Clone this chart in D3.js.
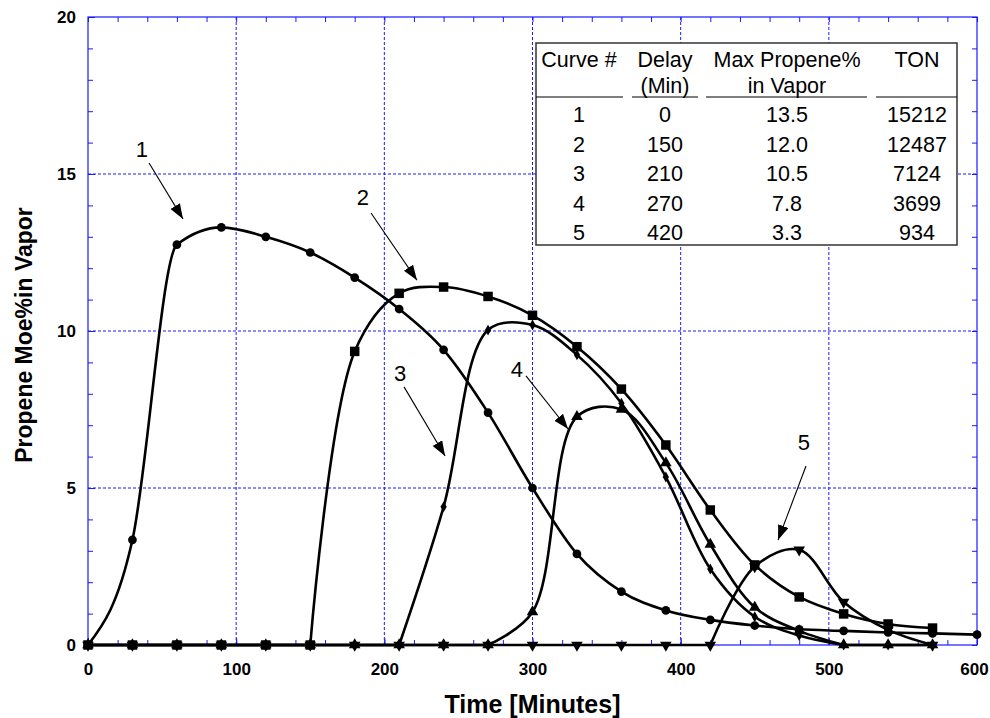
<!DOCTYPE html>
<html lang="en">
<head>
<meta charset="utf-8">
<title>Propene Mole% in Vapor</title>
<script src="https://d3js.org/d3.v7.min.js"></script>
<style>
  body { margin: 0; background: #fff; }
  text { font-family: "Liberation Sans", Arial, sans-serif; }
</style>
</head>
<body>
<div id="my_dataviz"></div>
<script>
// sample times (minutes), one point every 30 min
const times = [0, 30, 60, 90, 120, 150, 180, 210, 240, 270, 300, 330, 360, 390, 420, 450, 480, 510, 540, 570, 600];

// propene mol% in vapor for each curve
const curve1 = [0, 3.35, 12.75, 13.3, 13.0, 12.5, 11.7, 10.7, 9.4, 7.4, 5.0, 2.9, 1.7, 1.1, 0.8, 0.62, 0.5, 0.45, 0.4, 0.37, 0.33];
const curve2 = [0, 0, 0, 0, 0, 0, 9.35, 11.2, 11.4, 11.1, 10.5, 9.5, 8.15, 6.37, 4.3, 2.55, 1.53, 0.99, 0.67, 0.54];
const curve3 = [0, 0, 0, 0, 0, 0, 0, 0, 4.4, 10.03, 10.19, 9.24, 7.7, 5.35, 2.42, 0.9, 0.3, 0, 0, 0];
const curve4 = [0, 0, 0, 0, 0, 0, 0, 0, 0, 0, 1.05, 7.27, 7.5, 5.8, 3.2, 1.2, 0.45, 0, 0, 0];
const curve5 = [0, 0, 0, 0, 0, 0, 0, 0, 0, 0, 0, 0, 0, 0, 0, 2.5, 3.03, 1.37, 0.48, 0];

const seriesValues = [curve1, curve2, curve3, curve4, curve5];
const seriesMarkers = ["circle", "square", "diamond", "triangle", "triangleDown"];

// axis ticks
const xTicks = [0, 100, 200, 300, 400, 500, 600];
const yTicks = [0, 5, 10, 15, 20];

// curve labels with arrows: label position, arrow start, arrow tip (data units)
const labelText = ["1", "2", "3", "4", "5"];
const labelPos = [[36.4, 15.8], [185.6, 14.25], [210.6, 8.65], [289.5, 8.8], [483.2, 6.45]];
const arrowFrom = [[41.2, 15.35], [191, 13.76], [213.3, 8.22], [295.6, 8.57], [484.6, 5.7]];
const arrowTo = [[64.1, 13.57], [222, 11.62], [241, 6.02], [324, 6.88], [465.7, 3.34]];

// table in the upper right
const tableHead1 = ["Curve #", "Delay", "Max Propene%", "TON"];
const tableHead2 = ["", "(Min)", "in Vapor", ""];
const tableCurve = ["1", "2", "3", "4", "5"];
const tableDelay = ["0", "150", "210", "270", "420"];
const tableMax = ["13.5", "12.0", "10.5", "7.8", "3.3"];
const tableTon = ["15212", "12487", "7124", "3699", "934"];

// set the dimensions and margins of the graph
const margin = {top: 17, right: 13, bottom: 73, left: 88},
    width = 990 - margin.left - margin.right,
    height = 718 - margin.top - margin.bottom;

const svgRoot = d3.select("#my_dataviz")
  .append("svg")
    .attr("width", width + margin.left + margin.right)
    .attr("height", height + margin.top + margin.bottom);

const svg = svgRoot.append("g")
    .attr("transform", `translate(${margin.left},${margin.top})`);

const x = d3.scaleLinear().domain([0, 600]).range([0, width]);
const y = d3.scaleLinear().domain([0, 20]).range([height, 0]);

const blue = "#1a1aff";

// dotted grid at the major ticks
svg.append("g").selectAll("line")
  .data(xTicks.slice(1, -1))
  .join("line")
    .attr("x1", d => x(d)).attr("x2", d => x(d))
    .attr("y1", 0).attr("y2", height)
    .attr("stroke", blue).attr("stroke-width", 1).attr("stroke-dasharray", "3,2");
svg.append("g").selectAll("line")
  .data(yTicks.slice(1, -1))
  .join("line")
    .attr("x1", 0).attr("x2", width)
    .attr("y1", d => y(d)).attr("y2", d => y(d))
    .attr("stroke", blue).attr("stroke-width", 1).attr("stroke-dasharray", "3,2");

// ticks pointing inward on all four sides
function styleAxis(g) {
  g.select(".domain").remove();
  g.selectAll("line").attr("stroke", blue);
  g.selectAll("text").attr("font-family", "Liberation Sans, Arial, sans-serif")
    .attr("font-weight", "bold").attr("font-size", 17).attr("fill", "#000");
}
const xMinor = d3.range(0, 601, 20), yMinor = d3.range(0, 21, 1);

svg.append("g").attr("transform", `translate(0,${height})`)
  .call(d3.axisBottom(x).tickValues(xMinor).tickSize(-5).tickFormat("")).call(styleAxis);
svg.append("g")
  .call(d3.axisTop(x).tickValues(xMinor).tickSize(-5).tickFormat("")).call(styleAxis);
svg.append("g")
  .call(d3.axisLeft(y).tickValues(yMinor).tickSize(-5).tickFormat("")).call(styleAxis);
svg.append("g").attr("transform", `translate(${width},0)`)
  .call(d3.axisRight(y).tickValues(yMinor).tickSize(-5).tickFormat("")).call(styleAxis);

const xAxis = svg.append("g").attr("transform", `translate(0,${height})`)
  .call(d3.axisBottom(x).tickValues(xTicks).tickSize(-7).tickPadding(18)).call(styleAxis);
xAxis.selectAll("text").filter(d => d === 600).attr("dx", -3);
svg.append("g")
  .call(d3.axisLeft(y).tickValues(yTicks).tickSize(-7).tickPadding(12)).call(styleAxis);

// frame
svg.append("rect")
  .attr("width", width).attr("height", height)
  .attr("fill", "none").attr("stroke", blue).attr("stroke-width", 1.2);

// axis titles
svgRoot.append("text")
  .attr("x", margin.left + width / 2).attr("y", 713)
  .attr("text-anchor", "middle")
  .attr("font-weight", "bold").attr("font-size", 25)
  .text("Time [Minutes]");
svgRoot.append("text")
  .attr("transform", `translate(32,${margin.top + height / 2 + 4}) rotate(-90)`)
  .attr("text-anchor", "middle")
  .attr("font-weight", "bold").attr("font-size", 23)
  .text("Propene Moe%in Vapor");

// table box (covers the grid)
const tbl = svgRoot.append("g");
tbl.append("rect")
  .attr("x", 536).attr("y", 43).attr("width", 421).attr("height", 202)
  .attr("fill", "#fff").attr("stroke", "#333").attr("stroke-width", 1.5);
const colX = [579, 665, 787, 917];
const ruleSeg = [[536, 623], [632, 698], [706, 867], [876, 957]];
tbl.selectAll(".rule").data(ruleSeg).join("line")
  .attr("x1", d => d[0]).attr("x2", d => d[1])
  .attr("y1", 97).attr("y2", 97)
  .attr("stroke", "#000").attr("stroke-width", 1.2);
tbl.selectAll(".h1").data(tableHead1).join("text")
  .attr("x", (d, i) => colX[i]).attr("y", 67)
  .attr("text-anchor", "middle").attr("font-size", 21.5).text(d => d);
tbl.selectAll(".h2").data(tableHead2).join("text")
  .attr("x", (d, i) => colX[i]).attr("y", 93)
  .attr("text-anchor", "middle").attr("font-size", 21.5).text(d => d);
const tableCols = [tableCurve, tableDelay, tableMax, tableTon];
tableCols.forEach((col, c) => {
  tbl.append("g").selectAll("text").data(col).join("text")
    .attr("x", colX[c]).attr("y", (d, i) => 122 + i * 29.6)
    .attr("text-anchor", "middle").attr("font-size", 21.5)
    .attr("font-family", (d, i) => (c === 1 && i < 2) ? "Liberation Serif, serif" : null)
    .text(d => d);
});

// curves: flat zero runs drawn straight, the rest as a smooth spline
const linePts = d3.line().x(d => x(d[0])).y(d => y(d[1]));
const smooth = d3.line().x(d => x(d[0])).y(d => y(d[1])).curve(d3.curveCatmullRom.alpha(0.5));
const monotone = d3.line().x(d => x(d[0])).y(d => y(d[1])).curve(d3.curveMonotoneX);

function pieces(vals, gen) {
  const pts = vals.map((v, i) => [times[i], v]);
  let a = 0;
  while (a + 1 < vals.length && vals[a + 1] === 0) a++;
  let b = vals.length - 1;
  while (b - 1 > a && vals[b - 1] === 0) b--;
  if (vals[b] !== 0) b = vals.length - 1;
  return [
    {pts: pts.slice(0, a + 1), gen: linePts},
    {pts: pts.slice(a, b + 1), gen: gen},
    {pts: pts.slice(b), gen: linePts}
  ];
}

seriesValues.forEach((vals, s) => {
  pieces(vals, s === 0 ? monotone : smooth).forEach(p => {
    if (p.pts.length < 2) return;
    svg.append("path")
      .attr("fill", "none").attr("stroke", "#000").attr("stroke-width", 2.6)
      .attr("stroke-linejoin", "round").attr("stroke-linecap", "round")
      .attr("d", p.gen(p.pts));
  });
});

const symbolOf = {
  circle: d3.symbol().type(d3.symbolCircle).size(60),
  square: d3.symbol().type(d3.symbolSquare).size(90),
  diamond: d3.symbol().type(d3.symbolDiamond).size(34),
  triangle: d3.symbol().type(d3.symbolTriangle).size(58),
  triangleDown: d3.symbol().type(d3.symbolTriangle).size(58)
};

seriesValues.forEach((vals, s) => {
  const kind = seriesMarkers[s];
  svg.append("g").selectAll("path")
    .data(vals)
    .join("path")
      .attr("d", symbolOf[kind]())
      .attr("transform", (d, i) => `translate(${x(times[i])},${y(d)})` + (kind === "triangleDown" ? " rotate(180)" : ""))
      .attr("fill", "#000");
});

// arrows to the curves
svgRoot.append("defs").append("marker")
  .attr("id", "head")
  .attr("markerUnits", "userSpaceOnUse")
  .attr("markerWidth", 16).attr("markerHeight", 12)
  .attr("refX", 15).attr("refY", 5.5)
  .attr("orient", "auto")
  .append("path").attr("d", "M0,0L15,5.5L0,11Z").attr("fill", "#000");

svg.append("g").selectAll("line")
  .data(labelText)
  .join("line")
    .attr("x1", (d, i) => x(arrowFrom[i][0])).attr("y1", (d, i) => y(arrowFrom[i][1]))
    .attr("x2", (d, i) => x(arrowTo[i][0])).attr("y2", (d, i) => y(arrowTo[i][1]))
    .attr("stroke", "#000").attr("stroke-width", 1.1)
    .attr("marker-end", "url(#head)");

svg.append("g").selectAll("text")
  .data(labelText)
  .join("text")
    .attr("x", (d, i) => x(labelPos[i][0])).attr("y", (d, i) => y(labelPos[i][1]))
    .attr("dy", "0.36em")
    .attr("text-anchor", "middle").attr("font-size", 22)
    .text(d => d);
</script>
</body>
</html>
